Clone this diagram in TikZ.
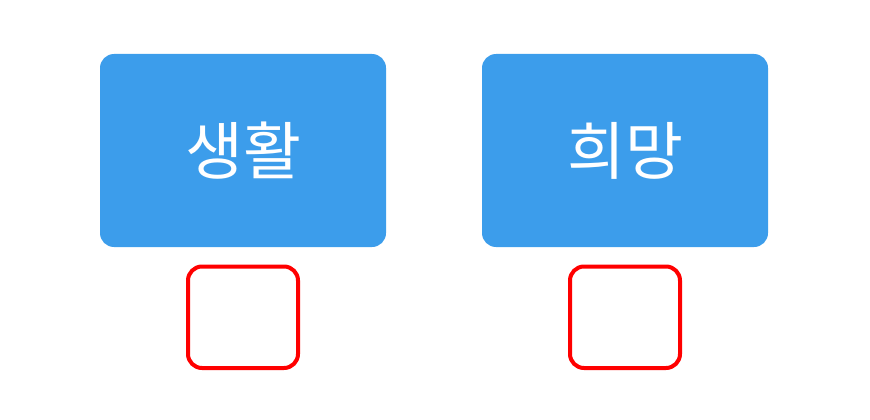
\documentclass[tikz,border=0pt]{standalone}
\usepackage{fontspec}
\newfontfamily\cjk{Noto Sans CJK KR}
\definecolor{boxblue}{HTML}{3C9DEB}
\definecolor{markred}{HTML}{FF0000}
\begin{document}
\begin{tikzpicture}[x=1pt,y=-1pt,line join=round,line cap=round,font=\cjk\fontsize{63}{65}\selectfont]
	%	\draw[thin,gray!50,step=50] (0,0) grid (870,420);
	\useasboundingbox (0,0) rectangle (870,420);
	
	\coordinate (L) at (243,150.5);
	\coordinate (R) at (625,150.5);
	\node[fill=boxblue,rounded corners=14pt,minimum width=286pt,minimum height=193pt,text=white,inner sep=0pt] (life) at (L) {생활};
	\node[fill=boxblue,rounded corners=14pt,minimum width=286pt,minimum height=193pt,text=white,inner sep=0pt] (hope) at (R) {희망};
	\draw[markred,line width=4pt,rounded corners=14pt] (188,266.5) rectangle (298,368);
	\draw[markred,line width=4pt,rounded corners=14pt] (570,266.5) rectangle (680,368);
\end{tikzpicture}
\end{document}
